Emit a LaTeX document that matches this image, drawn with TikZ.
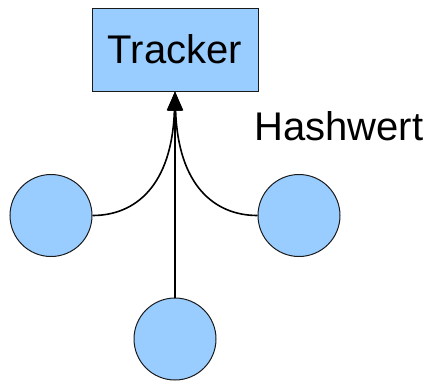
\documentclass[tikz,border=0pt]{standalone}
\usepackage{fontspec}
\setmainfont{Liberation Sans}
\usetikzlibrary{arrows.meta,positioning}
\definecolor{peerblue}{HTML}{99CCFF}
\definecolor{edge}{HTML}{1A1A1A}

\begin{document}
\begin{tikzpicture}[x=1pt,y=-1pt,
 box/.style={draw=edge,fill=peerblue,line width=1pt,minimum width=166pt,
 minimum height=83pt,inner sep=0pt,font=\fontsize{40}{48}\selectfont},
 peer/.style={circle,draw=edge,fill=peerblue,line width=1pt,minimum size=82pt,inner sep=0pt},
 arr/.style={-{Triangle[length=19pt,width=15pt]},line width=1.6pt,draw=black}]
 \useasboundingbox (0,0) rectangle (430,380);
 \node[box] (tracker) at (175,49.5) {Tracker};
 \node[peer] (left) at (51,215.5) {};
 \node[peer] (right) at (299,215.5) {};
 \node[peer] (bottom) at (175,339) {};
 \node[anchor=base west,inner sep=0pt,font=\fontsize{40}{48}\selectfont] (hash) at (254,140) {Hashwert};
 \draw[arr] (bottom.north) -- (tracker.south);
 \draw[arr] (left.east) .. controls +(43,0) and +(-3,94) .. (tracker.south);
 \draw[arr] (right.west) .. controls +(-43,0) and +(3,94) .. (tracker.south);
\end{tikzpicture}
\end{document}
